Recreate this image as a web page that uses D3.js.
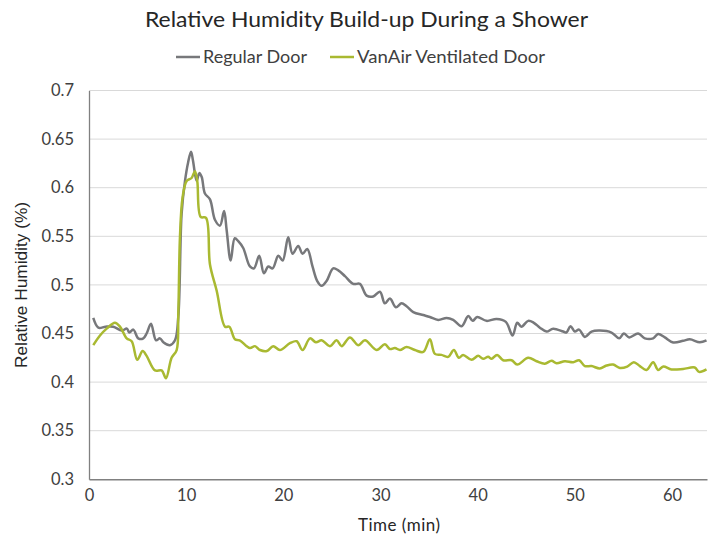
<!DOCTYPE html>
<html><head><meta charset="utf-8">
<script src="https://cdn.jsdelivr.net/npm/d3@7"></script>
<style>body{margin:0;background:#fff}svg{display:block}</style>
</head><body>
<svg id="c" width="717" height="539"></svg>
<script>
const seriesNames = ["Regular Door", "VanAir Ventilated Door"];
const xTicks = [0,10,20,30,40,50,60];
const yTicks = [0.3,0.35,0.4,0.45,0.5,0.55,0.6,0.65,0.7];
const yTickLabels = ["0.3","0.35","0.4","0.45","0.5","0.55","0.6","0.65","0.7"];

const regularTime = [0.44,0.96,1.7,2.5,3.36,3.9,4.15,4.56,5.07,5.59,5.93,6.38,6.9,7.3,7.65,8.33,8.85,9.19,9.53,9.88,10.2,10.5,10.7,11.08,11.35,11.6,11.93,12.45,12.96,13.48,13.9,14.17,14.58,15.0,15.36,15.87,16.56,16.98,17.52,18.0,18.45,18.9,19.48,19.93,20.5,20.95,21.53,21.98,22.46,23.0,23.49,23.94,24.45,25.13,25.65,26.34,27.2,27.88,28.57,29.25,29.94,30.45,30.97,31.58,32.17,32.68,33.37,34.4,35.08,35.94,36.8,37.48,38.34,39.03,39.48,39.95,40.91,41.94,42.9,43.59,44.07,44.5,45.2,45.78,46.4,47.09,47.77,48.8,49.14,49.55,50.0,50.44,51.03,51.72,52.57,53.77,54.56,55.04,55.59,56.51,57.2,58.06,58.57,59.26,60.12,61.14,61.83,62.86,63.55];
const regularRH = [0.466,0.456,0.457,0.457,0.453,0.455,0.451,0.454,0.445,0.445,0.45,0.460,0.443,0.445,0.441,0.438,0.443,0.467,0.573,0.607,0.626,0.637,0.628,0.607,0.615,0.611,0.594,0.588,0.567,0.561,0.576,0.556,0.525,0.548,0.545,0.538,0.519,0.517,0.530,0.512,0.519,0.517,0.530,0.525,0.549,0.532,0.54,0.532,0.537,0.519,0.504,0.499,0.504,0.517,0.515,0.509,0.501,0.501,0.489,0.488,0.493,0.481,0.486,0.477,0.481,0.478,0.472,0.469,0.467,0.464,0.466,0.464,0.4575,0.468,0.463,0.467,0.463,0.465,0.462,0.448,0.461,0.457,0.463,0.461,0.456,0.452,0.455,0.452,0.451,0.4575,0.452,0.454,0.4465,0.452,0.453,0.451,0.445,0.45,0.446,0.45,0.445,0.445,0.4495,0.446,0.4408,0.4425,0.444,0.441,0.443];

const vanairTime = [0.44,1.13,1.82,2.67,3.19,3.88,4.39,4.97,5.52,5.93,6.79,7.48,7.92,8.5,9.02,9.19,9.36,9.63,10.05,10.56,10.9,11.14,11.49,12.04,12.45,13.14,14.0,14.44,15.02,15.5,16.56,17.08,17.6,18.3,18.96,19.65,20.68,21.37,21.98,22.74,23.35,23.94,24.8,25.48,26.0,26.85,27.7,28.4,29.6,30.45,30.97,31.48,32.0,32.68,33.54,34.4,35.08,35.6,36.28,36.97,37.55,38.07,38.5,39.37,40.05,40.56,41.08,41.43,42.0,42.62,43.49,44.07,45.2,46.06,46.91,47.6,48.12,48.97,49.83,50.44,51.03,51.72,52.57,53.26,53.94,54.63,55.39,56.07,56.69,57.37,58.06,58.57,59.1,59.95,61.14,62.34,62.78,63.55];
const vanairRH = [0.438,0.448,0.455,0.461,0.457,0.445,0.442,0.423,0.432,0.427,0.412,0.412,0.404,0.425,0.433,0.47,0.549,0.59,0.607,0.61,0.617,0.607,0.57,0.569,0.521,0.494,0.457,0.457,0.444,0.443,0.435,0.437,0.433,0.432,0.437,0.433,0.44,0.442,0.433,0.445,0.441,0.443,0.437,0.443,0.437,0.446,0.438,0.443,0.433,0.439,0.434,0.435,0.433,0.436,0.433,0.431,0.444,0.429,0.428,0.426,0.433,0.425,0.428,0.423,0.427,0.424,0.426,0.424,0.428,0.4225,0.4225,0.418,0.425,0.4215,0.419,0.422,0.4195,0.4215,0.4205,0.4225,0.4165,0.4165,0.414,0.417,0.418,0.4145,0.416,0.4205,0.4165,0.4125,0.4205,0.4125,0.416,0.413,0.4135,0.415,0.4105,0.413];

const colors = ["#77787b", "#a9b931"];
const svg = d3.select("#c");
const m = {l:89, r:10, t:90.5, b:59.7};
const W = 717, H = 539;
const x = d3.scaleLinear().domain([0, 63.6]).range([m.l, W - m.r]);
const y = d3.scaleLinear().domain([0.3, 0.7]).range([H - m.b, m.t]);
const font = "Lato, 'Open Sans', sans-serif";

// gridlines
svg.append("g").selectAll("line").data(yTicks.slice(1)).join("line")
  .attr("x1", m.l).attr("x2", W - m.r)
  .attr("y1", d => y(d)).attr("y2", d => y(d))
  .attr("stroke", "#d9d9d9").attr("stroke-width", 1);

// y axis
const yAxis = svg.append("g").attr("transform", `translate(${m.l},0)`)
  .call(d3.axisLeft(y).tickValues(yTicks).tickFormat((d,i) => yTickLabels[i]).tickSize(0).tickPadding(15));
yAxis.select(".domain").attr("stroke", "#808080").attr("stroke-width", 1.3);
yAxis.selectAll("text").attr("font-family", font).attr("font-size", 16.5).attr("fill", "#404040");

// x axis
const xAxis = svg.append("g").attr("transform", `translate(0,${H - m.b})`)
  .call(d3.axisBottom(x).tickValues(xTicks).tickSize(0).tickPadding(10));
xAxis.select(".domain").attr("stroke", "#808080").attr("stroke-width", 1.5);
xAxis.selectAll("text").attr("font-family", font).attr("font-size", 16.5).attr("fill", "#404040");

// lines
const line = d3.line().x(d => x(d[0])).y(d => y(d[1])).curve(d3.curveCatmullRom.alpha(0.5));
const series = [d3.zip(regularTime, regularRH), d3.zip(vanairTime, vanairRH)];
svg.append("g").selectAll("path").data(series).join("path")
  .attr("d", line).attr("fill", "none")
  .attr("stroke", (d,i) => colors[i]).attr("stroke-width", 2.5)
  .attr("stroke-linejoin", "round");

// title
svg.append("text").attr("x", 145).attr("y", 27)
  .attr("font-family", font).attr("font-size", 20.5).attr("fill", "#262626")
  .attr("textLength", 443).attr("lengthAdjust", "spacingAndGlyphs")
  .text("Relative Humidity Build-up During a Shower");

// legend
const legX = [176, 330];
const legLen = [104, 188];
seriesNames.forEach((n, i) => {
  svg.append("line").attr("x1", legX[i]).attr("x2", legX[i] + 24)
    .attr("y1", 57).attr("y2", 57).attr("stroke", colors[i]).attr("stroke-width", 2.5);
  svg.append("text").attr("x", legX[i] + 27).attr("y", 63)
    .attr("font-family", font).attr("font-size", 16.5).attr("fill", "#404040")
    .attr("textLength", legLen[i]).attr("lengthAdjust", "spacingAndGlyphs").text(n);
});

// axis titles
svg.append("text").attr("x", 358).attr("y", 531)
  .attr("font-family", font).attr("font-size", 17).attr("fill", "#262626")
  .attr("textLength", 82).attr("lengthAdjust", "spacing").text("Time (min)");
svg.append("text").attr("transform", "translate(27,368) rotate(-90)")
  .attr("font-family", "'Liberation Sans', Arial, sans-serif").attr("font-size", 16).attr("fill", "#262626")
  .attr("textLength", 166).attr("lengthAdjust", "spacingAndGlyphs")
  .text("Relative Humidity (%)");
</script>
</body></html>
